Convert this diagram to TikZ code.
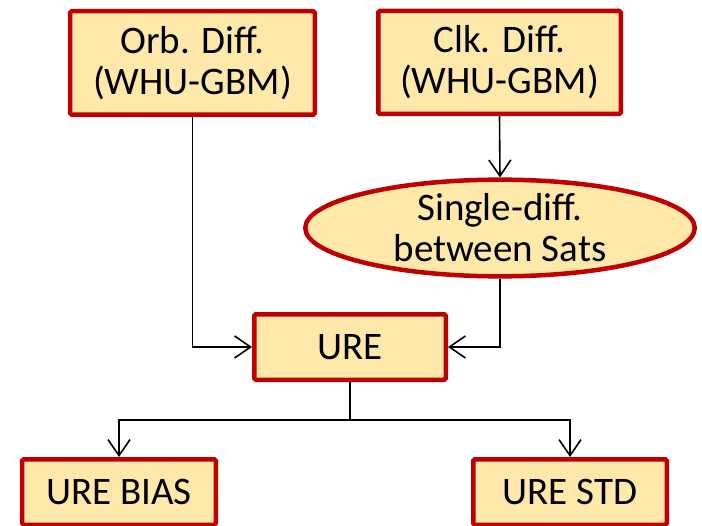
\documentclass[tikz,border=0pt]{standalone}
\usepackage{fontspec}
\setmainfont{Carlito}
\usetikzlibrary{shapes.geometric,arrows.meta}
\definecolor{boxfill}{HTML}{FFE9AA}
\definecolor{boxline}{HTML}{C00000}
\begin{document}
\begin{tikzpicture}[x=1bp,y=-1bp,
  every node/.style={font=\fontsize{39bp}{41bp}\selectfont, align=center, inner sep=0pt},
  boxnode/.style={draw=boxline, fill=boxfill, line width=4.5bp, rounded corners=1.5bp, rectangle},
  ellnode/.style={draw=boxline, fill=boxfill, line width=4.5bp, ellipse},
  conn/.style={draw=black, line width=1.6bp, -{Straight Barb[length=16bp,width=22bp,line width=1.6bp]}},
  plain/.style={draw=black, line width=1.6bp}]
\useasboundingbox (0,0) rectangle (702,526);
\node[boxnode, minimum width=244.5bp, minimum height=103.5bp] (orb) at (192.5,63) {Orb. Diff.\\(WHU-GBM)};
\node[boxnode, minimum width=242.5bp, minimum height=103bp] (clk) at (499.5,62.5) {Clk. Diff.\\(WHU-GBM)};
\node[ellnode, minimum width=389.5bp, minimum height=93.5bp] (ell) at (500,228) {Single-diff.\\between Sats};
\node[boxnode, minimum width=191.5bp, minimum height=65.5bp] (ure) at (350,347) {URE};
\node[boxnode, minimum width=193.5bp, minimum height=65.5bp] (bias) at (119,492) {URE BIAS};
\node[boxnode, minimum width=193.5bp, minimum height=65.5bp] (std) at (570,492) {URE STD};
\coordinate (j) at (350,420);
\draw[conn] (orb.south) |- (ure.west);
\draw[conn] (clk.south) -- (ell.north);
\draw[conn] (ell.south) |- (ure.east);
\draw[plain] (ure.south) -- (j);
\draw[conn] (j) -| (bias.north);
\draw[conn] (j) -| (std.north);
\end{tikzpicture}
\end{document}
